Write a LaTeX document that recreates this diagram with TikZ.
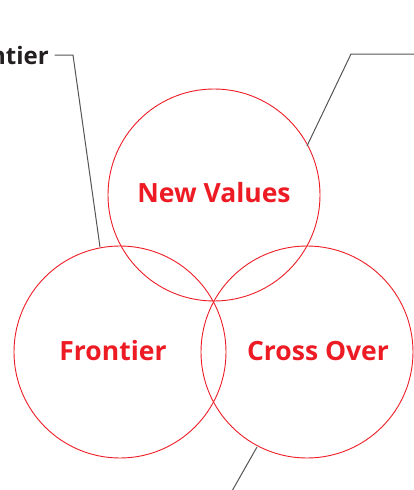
\documentclass[tikz,border=0pt]{standalone}
\usepackage{fontspec}
\setmainfont{Open Sans}
\definecolor{vred}{HTML}{ED1C24}
\definecolor{lead}{HTML}{555555}
\definecolor{lbl}{HTML}{231F20}
\begin{document}
\begin{tikzpicture}[x=1pt,y=-1pt,
  venn/.style={circle,draw=vred,line width=0.9pt,minimum size=212pt,inner sep=0pt},
  vtext/.style={text=vred,font=\fontsize{26.5}{30}\selectfont\bfseries},
  leader/.style={draw=lead,line width=1pt},
  ltext/.style={text=lbl,font=\fontsize{24}{28}\selectfont\bfseries,inner sep=0pt}]
\useasboundingbox (0,0) rectangle (414,490);
\node[venn] (top) at (214,195) {};
\node[venn] (left) at (120,352) {};
\node[venn] (right) at (307,352) {};
\node[vtext] (tnew) at (214,193) {New Values};
\node[vtext] (tfront) at (113,351) {Frontier};
\node[vtext] (tcross) at (318,351) {Cross Over};
\node[ltext,anchor=east] (lfront) at (49,55) {Frontier};
\coordinate (c1) at (73,55);
\coordinate (e1) at (100,247);
\coordinate (r0) at (414,54);
\coordinate (c2) at (351,54);
\coordinate (e2) at (307,146);
\coordinate (b0) at (257,447);
\coordinate (b1) at (232,491);
\draw[leader] ([xshift=5.5pt]lfront.east) -- (c1) -- (e1);
\draw[leader] (r0) -- (c2) -- (e2);
\draw[leader] (b0) -- (b1);
\end{tikzpicture}
\end{document}
